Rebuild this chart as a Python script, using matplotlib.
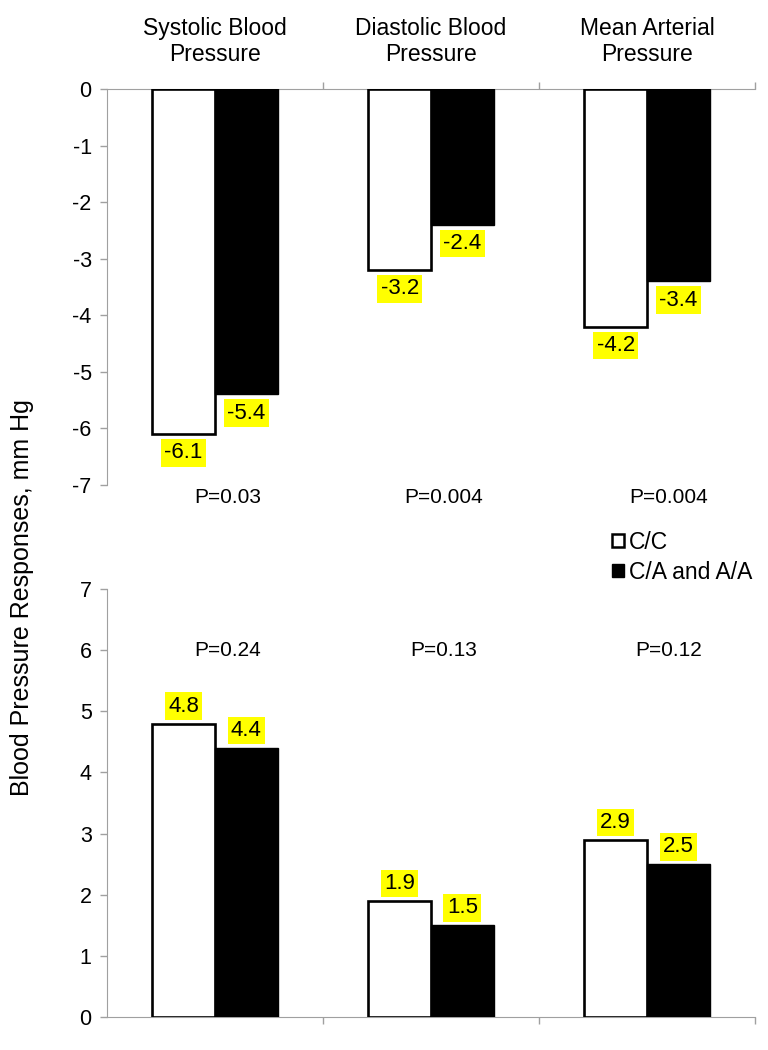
import matplotlib
matplotlib.use("Agg")
import matplotlib.pyplot as plt
from matplotlib.patches import Patch
from matplotlib.transforms import blended_transform_factory

plt.rcParams['font.family'] = ['Liberation Sans', 'DejaVu Sans']
plt.rcParams['axes.unicode_minus'] = False

# --- data ---
categories = ["Systolic Blood\nPressure", "Diastolic Blood\nPressure", "Mean Arterial\nPressure"]
series_names = ["C/C", "C/A and A/A"]

# top panel: blood pressure responses (decrease)
cc_down = [-6.1, -3.2, -4.2]
ca_down = [-5.4, -2.4, -3.4]
p_down = ["P=0.03", "P=0.004", "P=0.004"]

# bottom panel: blood pressure responses (increase)
cc_up = [4.8, 1.9, 2.9]
ca_up = [4.4, 1.5, 2.5]
p_up = ["P=0.24", "P=0.13", "P=0.12"]

x = range(len(categories))
bar_w = 0.29
axis_grey = "#a0a0a0"
label_box = dict(boxstyle="square,pad=0.15", facecolor="#ffff00", edgecolor="none")

fig = plt.figure(figsize=(7.68, 10.5), dpi=100)
ax_top = fig.add_axes([0.1393, 0.5381, 0.9831 - 0.1393, 0.9152 - 0.5381])
ax_bot = fig.add_axes([0.1393, 0.0314, 0.9831 - 0.1393, 0.439 - 0.0314])


def draw_panel(ax, cc_vals, ca_vals, negative):
    xl = [i - bar_w / 2 for i in x]
    xr = [i + bar_w / 2 for i in x]
    ax.bar(xl, cc_vals, width=bar_w, color="white", edgecolor="black", linewidth=1.9, zorder=3)
    ax.bar(xr, ca_vals, width=bar_w, color="black", edgecolor="black", linewidth=1.0, zorder=3)

    # yellow value labels just past the end of each bar
    off = -13.5 if negative else 12.5
    for xs, vals in ((xl, cc_vals), (xr, ca_vals)):
        for xi, v in zip(xs, vals):
            ax.annotate(f"{v:.1f}", (xi, v), xytext=(0, off), textcoords="offset points",
                        ha="center", va="center", fontsize=16, bbox=label_box, zorder=4)

    ax.set_xlim(-0.5, 2.5)
    ax.set_xticks([0.5, 1.5, 2.5])
    ax.set_xticklabels([])
    ax.spines["right"].set_visible(False)
    ax.spines["left"].set_color(axis_grey)
    ax.tick_params(axis="y", colors=axis_grey, labelcolor="black", labelsize=15.5,
                   length=5, width=1, direction="out", pad=6)
    ax.tick_params(axis="x", colors=axis_grey, length=5, width=1, direction="out")


draw_panel(ax_top, cc_down, ca_down, negative=True)
ax_top.set_ylim(-7, 0)
ax_top.set_yticks(range(-7, 1))
ax_top.spines["bottom"].set_visible(False)
ax_top.spines["top"].set_color(axis_grey)
ax_top.xaxis.tick_top()

draw_panel(ax_bot, cc_up, ca_up, negative=False)
ax_bot.set_ylim(0, 7)
ax_bot.set_yticks(range(0, 8))
ax_bot.spines["top"].set_visible(False)
ax_bot.spines["bottom"].set_color(axis_grey)

# category titles above the top panel
trans_top = blended_transform_factory(ax_top.transData, fig.transFigure)
for i, name in zip(x, categories):
    ax_top.text(i, 0.9605, name, transform=trans_top, ha="center", va="center",
                fontsize=16.5, linespacing=1.15)

# P values
p_x = [0.06, 1.06, 2.1]
for xi, p in zip(p_x, p_down):
    ax_top.text(xi, -7.22, p, ha="center", va="center", fontsize=15, clip_on=False)
for xi, p in zip(p_x, p_up):
    ax_bot.text(xi, 6.0, p, ha="center", va="center", fontsize=15)

fig.text(0.029, 0.431, "Blood Pressure Responses, mm Hg", rotation=90,
         ha="center", va="center", fontsize=18)

handles = [Patch(facecolor="white", edgecolor="black", linewidth=1.8),
           Patch(facecolor="black", edgecolor="black")]
fig.legend(handles, series_names, loc="upper left", bbox_to_anchor=(0.797, 1 - 531 / 1050),
           frameon=False, fontsize=16.5, handlelength=0.5, handleheight=0.5,
           handletextpad=0.25, labelspacing=0.3, borderpad=0, borderaxespad=0)

fig.savefig("out.png", dpi=100)
